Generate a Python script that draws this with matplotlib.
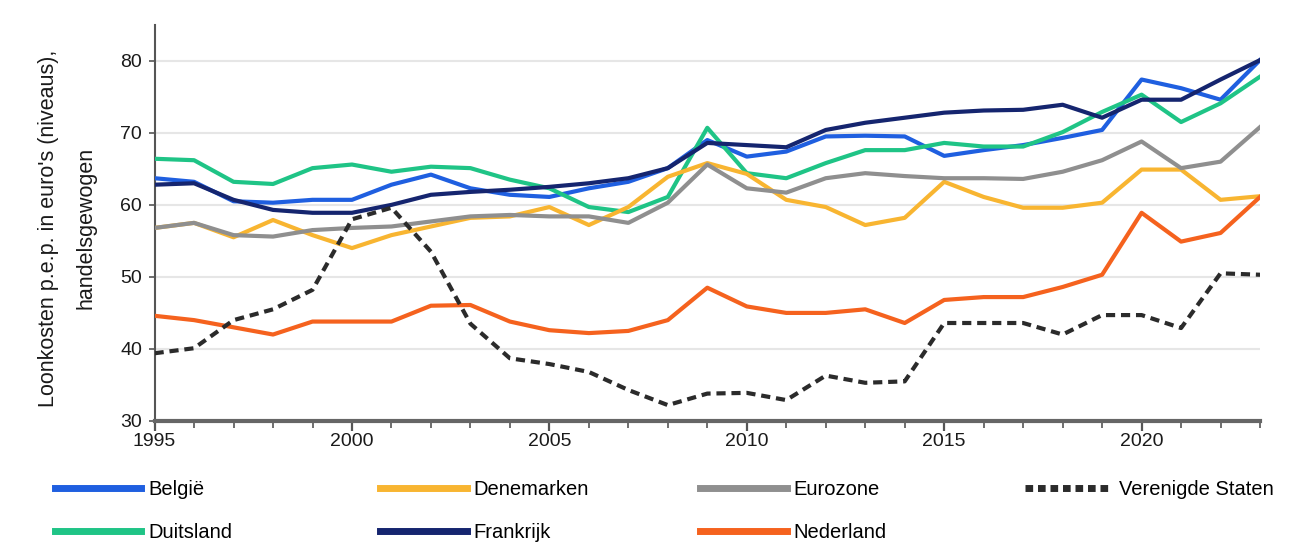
import matplotlib.pyplot as plt
from matplotlib.lines import Line2D

# ── Data ─────────────────────────────────────────────────────────────────
years = list(range(1995, 2024))

belgie = [63.7, 63.2, 60.5, 60.3, 60.7, 60.7, 62.8, 64.2,
          62.3, 61.4, 61.1, 62.3, 63.2, 65.1, 69.0, 66.7,
          67.4, 69.5, 69.6, 69.5, 66.8, 67.6, 68.3,
          69.3, 70.4, 77.4, 76.2, 74.6, 80.1]
duitsland = [66.4, 66.2, 63.2, 62.9, 65.1, 65.6, 64.6, 65.3,
             65.1, 63.5, 62.3, 59.7, 59.0, 61.1, 70.7, 64.4,
             63.7, 65.8, 67.6, 67.6, 68.6, 68.1, 68.1,
             70.1, 72.9, 75.3, 71.5, 74.1, 77.8]
denemarken = [56.8, 57.5, 55.5, 57.9, 55.8, 54.0, 55.8, 57.0,
              58.2, 58.4, 59.7, 57.2, 59.7, 63.9, 65.8, 64.3,
              60.7, 59.7, 57.2, 58.2, 63.2, 61.1, 59.6,
              59.6, 60.3, 64.9, 64.9, 60.7, 61.2]
frankrijk = [62.8, 63.0, 60.7, 59.3, 58.9, 58.9, 60.0, 61.4,
             61.8, 62.1, 62.5, 63.0, 63.7, 65.1, 68.6, 68.3,
             68.0, 70.4, 71.4, 72.1, 72.8, 73.1, 73.2,
             73.9, 72.1, 74.6, 74.6, 77.4, 80.1]
eurozone = [56.8, 57.5, 55.8, 55.6, 56.5, 56.8, 57.0, 57.7,
            58.4, 58.6, 58.4, 58.4, 57.5, 60.3, 65.6, 62.3,
            61.7, 63.7, 64.4, 64.0, 63.7, 63.7, 63.6,
            64.6, 66.2, 68.8, 65.1, 66.0, 70.8]
nederland = [44.6, 44.0, 43.0, 42.0, 43.8, 43.8, 43.8, 46.0,
             46.1, 43.8, 42.6, 42.2, 42.5, 44.0, 48.5, 45.9,
             45.0, 45.0, 45.5, 43.6, 46.8, 47.2, 47.2,
             48.6, 50.3, 58.9, 54.9, 56.1, 61.1]
verenigde_staten = [39.4, 40.1, 44.0, 45.5, 48.2, 58.0, 59.6, 53.5,
                    43.5, 38.7, 37.9, 36.8, 34.3, 32.2, 33.8, 33.9,
                    32.9, 36.3, 35.3, 35.5, 43.6, 43.6, 43.6,
                    42.0, 44.7, 44.7, 42.9, 50.5, 50.3]

y_ticks = [30, 40, 50, 60, 70, 80]
x_labels = [1995, 2000, 2005, 2010, 2015, 2020]

# ── Styling ──────────────────────────────────────────────────────────────
plt.rcParams['font.family'] = ['Liberation Sans', 'DejaVu Sans']

series = [
    ('België', belgie, '#1f5fe0', '-'),
    ('Duitsland', duitsland, '#1fc486', '-'),
    ('Denemarken', denemarken, '#f8b531', '-'),
    ('Frankrijk', frankrijk, '#15256f', '-'),
    ('Eurozone', eurozone, '#8f8f8f', '-'),
    ('Nederland', nederland, '#f5621e', '-'),
    ('Verenigde Staten', verenigde_staten, '#2b2b2b', '--'),
]

fig = plt.figure(figsize=(12.99, 5.51), dpi=100)
ax = fig.add_axes([0.119, 0.236, 0.851, 0.719])

handles = {}
for name, vals, color, ls in series:
    kw = dict(dashes=(2.2, 1.4)) if ls == '--' else {}
    ax.plot(years, vals, color=color, lw=3.0, ls=ls, zorder=3, **kw)
    handles[name] = Line2D([], [], color=color, lw=5, ls=ls,
                           **(dict(dashes=(1.1, 0.7)) if ls == '--' else {}))

ax.set_xlim(1995, 2023)
ax.set_ylim(30, 85)
ax.set_yticks(y_ticks)
ax.set_xticks(years, minor=True)
ax.set_xticks(x_labels)
ax.tick_params(axis='y', labelsize=14, length=4, width=1.2, pad=5, color='#555555')
ax.tick_params(axis='x', which='both', labelsize=14, direction='out', pad=2, color='#555555')
ax.tick_params(axis='x', which='major', length=7, width=1.6)
ax.tick_params(axis='x', which='minor', length=5, width=1.2)
for lbl in ax.get_xticklabels() + ax.get_yticklabels():
    lbl.set_color('#1a1a1a')

for y in y_ticks[1:]:
    ax.axhline(y, color='#e6e6e6', lw=1.5, zorder=1)

for s in ['top', 'right']:
    ax.spines[s].set_visible(False)
ax.spines['left'].set_color('#555555')
ax.spines['left'].set_linewidth(1.5)
ax.spines['bottom'].set_color('#666666')
ax.spines['bottom'].set_linewidth(3)

fig.text(0.037, 0.586, "Loonkosten p.e.p. in euro's (niveaus),", rotation=90,
         ha='center', va='center', fontsize=15.5, color='#1a1a1a')
fig.text(0.066, 0.586, 'handelsgewogen', rotation=90,
         ha='center', va='center', fontsize=15.5, color='#1a1a1a')

# ── Legend: one block per column, placed at fixed positions ──────────────
columns = [['België', 'Duitsland'], ['Denemarken', 'Frankrijk'],
           ['Eurozone', 'Nederland'], ['Verenigde Staten']]
col_x = [0.042, 0.2925, 0.539, 0.789]
for cx, col in zip(col_x, columns):
    fig.legend([handles[n] for n in col], col, loc='upper left',
               bbox_to_anchor=(cx, 0.128), frameon=False, fontsize=14.5,
               handlelength=4.3, handletextpad=0.35, labelspacing=1.15,
               borderaxespad=0, borderpad=0)

fig.savefig('out.png', dpi=100)
